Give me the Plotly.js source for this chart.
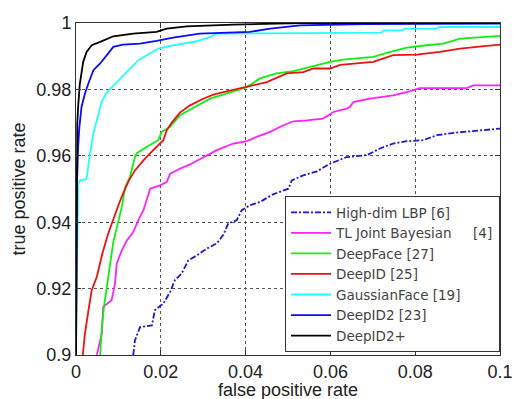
<!DOCTYPE html>
<html><head><meta charset="utf-8">
<script src="https://cdn.plot.ly/plotly-3.0.1.min.js"></script>
<style>html,body{margin:0;padding:0;background:#fff;}#chart{width:514px;height:399px;}</style>
</head><body><div id="chart"></div>
<script>
// ---- data ----
const seriesNames = ["High-dim LBP [6]", "TL Joint Bayesian\u00a0\u00a0\u00a0\u00a0\u00a0[4]", "DeepFace [27]", "DeepID [25]", "GaussianFace [19]", "DeepID2 [23]", "DeepID2+"];

const lbpX = [0.0135, 0.0139, 0.0151, 0.0179, 0.0186, 0.0206, 0.0222, 0.0233, 0.0249, 0.0265, 0.0285, 0.0308, 0.0332, 0.0347, 0.0359, 0.0379, 0.0391, 0.0410, 0.0434, 0.0465, 0.0501, 0.0509, 0.0536, 0.0568, 0.0599, 0.0638, 0.0686, 0.0717, 0.0748, 0.0780, 0.0819, 0.0851, 0.0898, 0.0953, 0.1000];
const lbpY = [0.9000, 0.9044, 0.9084, 0.9089, 0.9135, 0.9155, 0.9190, 0.9225, 0.9245, 0.9285, 0.9300, 0.9320, 0.9336, 0.9361, 0.9396, 0.9406, 0.9436, 0.9451, 0.9461, 0.9484, 0.9501, 0.9526, 0.9541, 0.9553, 0.9576, 0.9596, 0.9602, 0.9622, 0.9637, 0.9644, 0.9647, 0.9662, 0.9670, 0.9677, 0.9682];

const tlX = [0.0049, 0.0061, 0.0064, 0.0084, 0.0092, 0.0096, 0.0108, 0.0120, 0.0135, 0.0147, 0.0159, 0.0167, 0.0175, 0.0198, 0.0214, 0.0222, 0.0245, 0.0269, 0.0292, 0.0332, 0.0371, 0.0403, 0.0426, 0.0458, 0.0489, 0.0513, 0.0544, 0.0583, 0.0607, 0.0638, 0.0646, 0.0654, 0.0693, 0.0748, 0.0780, 0.0811, 0.0921, 0.0937, 0.1000];
const tlY = [0.9000, 0.9065, 0.9145, 0.9165, 0.9215, 0.9275, 0.9315, 0.9345, 0.9370, 0.9406, 0.9436, 0.9466, 0.9501, 0.9511, 0.9521, 0.9546, 0.9561, 0.9574, 0.9590, 0.9617, 0.9637, 0.9644, 0.9657, 0.9672, 0.9692, 0.9704, 0.9707, 0.9712, 0.9732, 0.9742, 0.9747, 0.9762, 0.9772, 0.9782, 0.9792, 0.9804, 0.9804, 0.9812, 0.9812];

const dfX = [0.0057, 0.0061, 0.0066, 0.0072, 0.0080, 0.0088, 0.0096, 0.0108, 0.0116, 0.0127, 0.0139, 0.0143, 0.0167, 0.0194, 0.0202, 0.0222, 0.0245, 0.0267, 0.0292, 0.0316, 0.0347, 0.0379, 0.0403, 0.0434, 0.0473, 0.0513, 0.0568, 0.0599, 0.0630, 0.0701, 0.0741, 0.0780, 0.0827, 0.0866, 0.0906, 0.0961, 0.1000];
const dfY = [0.9000, 0.9084, 0.9145, 0.9205, 0.9270, 0.9340, 0.9386, 0.9446, 0.9506, 0.9536, 0.9596, 0.9607, 0.9627, 0.9647, 0.9672, 0.9687, 0.9722, 0.9737, 0.9755, 0.9772, 0.9784, 0.9797, 0.9807, 0.9833, 0.9848, 0.9855, 0.9873, 0.9883, 0.9890, 0.9898, 0.9913, 0.9926, 0.9933, 0.9938, 0.9953, 0.9958, 0.9961];

const didX = [0.0016, 0.0021, 0.0030, 0.0037, 0.0049, 0.0062, 0.0076, 0.0088, 0.0100, 0.0112, 0.0125, 0.0139, 0.0159, 0.0182, 0.0206, 0.0214, 0.0226, 0.0245, 0.0269, 0.0300, 0.0324, 0.0355, 0.0403, 0.0450, 0.0497, 0.0536, 0.0560, 0.0599, 0.0623, 0.0701, 0.0748, 0.0804, 0.0858, 0.0906, 0.0945, 0.1000];
const didY = [0.9000, 0.9064, 0.9140, 0.9195, 0.9235, 0.9305, 0.9366, 0.9411, 0.9451, 0.9490, 0.9526, 0.9556, 0.9586, 0.9617, 0.9647, 0.9677, 0.9700, 0.9730, 0.9752, 0.9772, 0.9784, 0.9794, 0.9809, 0.9822, 0.9848, 0.9852, 0.9863, 0.9863, 0.9874, 0.9883, 0.9903, 0.9905, 0.9913, 0.9923, 0.9928, 0.9935];

const gfX = [0.0000, 0.0003, 0.0004, 0.0005, 0.0010, 0.0025, 0.0033, 0.0041, 0.0052, 0.0060, 0.0072, 0.0092, 0.0111, 0.0131, 0.0147, 0.0167, 0.0194, 0.0222, 0.0253, 0.0285, 0.0316, 0.0332, 0.0720, 0.0726, 0.0769, 0.0775, 0.0850, 0.0858, 0.1000];
const gfY = [0.9000, 0.9300, 0.9466, 0.9516, 0.9526, 0.9530, 0.9607, 0.9667, 0.9720, 0.9762, 0.9790, 0.9817, 0.9842, 0.9868, 0.9888, 0.9903, 0.9923, 0.9931, 0.9938, 0.9945, 0.9958, 0.9968, 0.9971, 0.9978, 0.9978, 0.9983, 0.9983, 0.9988, 0.9988];

const id2X = [0.0000, 0.0002, 0.0005, 0.0008, 0.0013, 0.0021, 0.0029, 0.0041, 0.0057, 0.0072, 0.0088, 0.0111, 0.0151, 0.0190, 0.0229, 0.0292, 0.0371, 0.0410, 0.0458, 0.0528, 0.0680, 0.1000];
const id2Y = [0.9000, 0.9500, 0.9627, 0.9687, 0.9747, 0.9787, 0.9817, 0.9858, 0.9878, 0.9903, 0.9928, 0.9935, 0.9938, 0.9946, 0.9956, 0.9968, 0.9971, 0.9973, 0.9983, 0.9993, 0.9997, 0.9998];

const id2pX = [0.0000, 0.0001, 0.0003, 0.0005, 0.0009, 0.0013, 0.0017, 0.0025, 0.0037, 0.0057, 0.0088, 0.0135, 0.0190, 0.0214, 0.0261, 0.0370, 0.0530, 0.1000];
const id2pY = [0.9000, 0.9550, 0.9697, 0.9747, 0.9817, 0.9850, 0.9883, 0.9913, 0.9933, 0.9943, 0.9960, 0.9968, 0.9973, 0.9983, 0.9990, 0.9995, 1.0000, 1.0000];

const xTicks = [0, 0.02, 0.04, 0.06, 0.08, 0.1];
const yTicks = [0.9, 0.92, 0.94, 0.96, 0.98, 1];
const xTitle = "false positive rate";
const yTitle = "true positive rate";

// ---- styling ----
const colors = ["#1a1ad0", "#ff22ff", "#11ee11", "#ee1111", "#22ffff", "#0a0aff", "#000000"];
const dashes = ["6px,2px,2px,2px", "solid", "solid", "solid", "solid", "solid", "solid"];
const xs = [lbpX, tlX, dfX, didX, gfX, id2X, id2pX];
const ys = [lbpY, tlY, dfY, didY, gfY, id2Y, id2pY];

const traces = seriesNames.map((n, i) => ({
  type: "scatter", mode: "lines", name: n, x: xs[i], y: ys[i],
  line: {color: colors[i], width: 1.8, dash: dashes[i]}
}));

const font = "Liberation Sans, Arial, sans-serif";
function axis(range, vals) {
  return {
    range: range, tickvals: vals,
    showline: true, linecolor: "#333", mirror: "ticks",
    ticks: "inside", ticklen: 5, tickcolor: "#333",
    showgrid: true, gridcolor: "#555", griddash: "dot",
    zeroline: false,
    tickfont: {family: font, size: 18, color: "#222"}
  };
}

const layout = {
  width: 514, height: 399,
  margin: {l: 76, r: 14, t: 23, b: 44},
  paper_bgcolor: "#fff", plot_bgcolor: "#fff",
  showlegend: true,
  legend: {
    x: 1, y: 0.009, xanchor: "right", yanchor: "bottom",
    bgcolor: "#fff", bordercolor: "#333", borderwidth: 1,
    font: {family: "DejaVu Sans, sans-serif", size: 13.5, color: "#444"},
    itemwidth: 40
  },
  xaxis: axis([0, 0.1], xTicks),
  yaxis: Object.assign(axis([0.9, 1], yTicks), {
    title: {text: yTitle, font: {family: font, size: 18, color: "#222"}, standoff: 6}
  }),
  annotations: [{
    text: xTitle, xref: "paper", yref: "paper", x: 0.5, y: 0,
    xanchor: "center", yanchor: "middle", yshift: -35, showarrow: false,
    font: {family: font, size: 18, color: "#222"}
  }]
};

Plotly.newPlot("chart", traces, layout, {displayModeBar: false, staticPlot: true});
</script></body></html>
